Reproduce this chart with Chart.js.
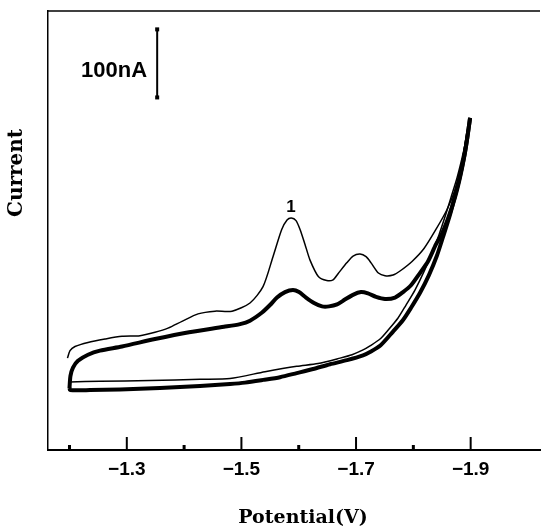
<!DOCTYPE html>
<html>
<head>
<meta charset="utf-8">
<title>Cyclic voltammogram</title>
<script src="https://cdn.jsdelivr.net/npm/chart.js@4.4.1/dist/chart.umd.min.js"></script>
<style>
  html, body { margin: 0; padding: 0; background: #fff; }
  #wrap { width: 541px; height: 531px; }
</style>
</head>
<body>
<div id="wrap"><canvas id="cv" width="541" height="531"></canvas></div>
<script>
// Potential axis ticks (V)
const majorTicks = [-1.3, -1.5, -1.7, -1.9];
const minorTicks = [-1.2, -1.4, -1.6, -1.8];

// First scan, cathodic sweep (thin line, peak "1")
const scan1FwdV = [-1.1965, -1.2009, -1.2096, -1.2323, -1.262, -1.2916, -1.323, -1.3492, -1.3719, -1.3963,
  -1.4243, -1.4539, -1.4836, -1.515, -1.5377, -1.5551, -1.5703, -1.5796, -1.5871, -1.5953,
  -1.6023, -1.611, -1.6197, -1.6342, -1.6489, -1.6599, -1.6686, -1.6838, -1.6948, -1.707,
  -1.7175, -1.7262, -1.739, -1.7506, -1.7646, -1.7768, -1.7977, -1.8186, -1.8394, -1.8586,
  -1.8726, -1.8848, -1.8927, -1.899];
const scan1FwdI = [135, 146, 152, 158, 163, 167, 168, 173, 179, 189,
  200, 204, 204, 216, 240, 284, 324, 338, 341, 337,
  324, 302, 279, 255, 249, 250, 259, 275, 285, 288,
  284, 275, 260, 256, 257, 263, 277, 296, 324, 353,
  382, 422, 463, 488];

// First scan, anodic return (thin line)
const scan1RevV = [-1.899, -1.892, -1.885, -1.8763, -1.8657, -1.8569, -1.8447, -1.8325, -1.8185, -1.8028,
  -1.7872, -1.7733, -1.7558, -1.7419, -1.7244, -1.7122, -1.693, -1.6721, -1.6337, -1.5965,
  -1.5412, -1.4801, -1.4277, -1.3405, -1.2532, -1.2009];
const scan1RevI = [488, 456, 429, 400, 371, 347, 316, 290, 262, 235,
  213, 194, 176, 163, 153, 147, 140, 135, 127, 123,
  115, 105, 104, 102, 101, 100];

// Later scans, cathodic sweep (thick band)
const scanNFwdV = [-1.2, -1.2017, -1.2061, -1.2148, -1.2323, -1.2532, -1.2916, -1.3492, -1.4086, -1.4696,
  -1.4976, -1.515, -1.536, -1.5499, -1.5621, -1.5761, -1.59, -1.6005, -1.6127, -1.6267,
  -1.6407, -1.6529, -1.6669, -1.6806, -1.6946, -1.7086, -1.7208, -1.7349, -1.7506, -1.768,
  -1.782, -1.7959, -1.8115, -1.8255, -1.8394, -1.8499, -1.8621, -1.8726, -1.8813, -1.8883,
  -1.8936, -1.899];
const scanNFwdI = [91, 109, 121, 131, 140, 146, 152, 163, 173, 181,
  185, 190, 202, 213, 224, 232, 235, 232, 224, 216,
  211, 211, 214, 221, 228, 232, 230, 225, 222, 224,
  232, 242, 260, 277, 302, 318, 344, 371, 400, 429,
  456, 488];

// Later scans, anodic return (thick band)
const scanNRevV = [-1.899, -1.8937, -1.8894, -1.8815, -1.8728, -1.8641, -1.8518, -1.8409, -1.8272, -1.8117,
  -1.796, -1.782, -1.7646, -1.7419, -1.7244, -1.7122, -1.6843, -1.6546, -1.625, -1.5965,
  -1.5674, -1.5382, -1.5063, -1.4801, -1.4277, -1.3579, -1.2881, -1.2358, -1.2009, -1.2];
const scanNRevI = [488, 456, 434, 403, 374, 346, 313, 285, 257, 231,
  209, 191, 174, 153, 144, 139, 132, 126, 119, 113,
  107, 103, 99, 97, 94, 91, 89, 88, 88, 91];

const xMin = -2.021, xMax = -1.1625;
const yMin = 0, yMax = 645;

function toPoints(vs, is) {
    return vs.map((v, k) => ({ x: v, y: is[k] }));
}

const serif = "'DejaVu Serif', 'Liberation Serif', serif";
const sans = "'Liberation Sans', Arial, sans-serif";

// Frame, inward ticks, scale bar and titles
const decorations = {
    id: 'decorations',
    afterDraw(chart) {
        const { ctx, chartArea: a, scales: { x, y } } = chart;
        ctx.save();
        ctx.strokeStyle = '#000';
        ctx.fillStyle = '#000';

        // top frame line
        ctx.lineWidth = 1.5;
        ctx.beginPath();
        ctx.moveTo(a.left, a.top);
        ctx.lineTo(a.right, a.top);
        ctx.stroke();

        // ticks pointing up into the plot
        ctx.lineWidth = 2;
        majorTicks.forEach(v => {
            const px = x.getPixelForValue(v);
            ctx.beginPath();
            ctx.moveTo(px, a.bottom);
            ctx.lineTo(px, a.bottom - 13);
            ctx.stroke();
        });
        minorTicks.forEach(v => {
            const px = x.getPixelForValue(v);
            ctx.fillRect(px - 1.5, a.bottom - 5, 3, 5);
        });

        // 100 nA scale bar
        const bx = x.getPixelForValue(-1.353);
        const b0 = y.getPixelForValue(518);
        const b1 = y.getPixelForValue(618);
        ctx.lineWidth = 2;
        ctx.beginPath();
        ctx.moveTo(bx, b0);
        ctx.lineTo(bx, b1);
        ctx.stroke();
        ctx.fillRect(bx - 2, b0 - 2, 4, 4);
        ctx.fillRect(bx - 2, b1 - 2, 4, 4);
        ctx.font = 'bold 22px ' + sans;
        ctx.textAlign = 'right';
        ctx.textBaseline = 'middle';
        ctx.fillText('100nA', x.getPixelForValue(-1.3353), y.getPixelForValue(557));

        // peak label
        ctx.font = 'bold 17px ' + sans;
        ctx.textAlign = 'center';
        ctx.fillText('1', x.getPixelForValue(-1.5865), y.getPixelForValue(356));

        // axis titles
        ctx.font = 'bold 19px ' + serif;
        ctx.fillText('Potential(V)', a.left + 255, a.bottom + 68);
        ctx.font = 'bold 20px ' + serif;
        ctx.translate(a.left - 31, a.top + 162);
        ctx.rotate(-Math.PI / 2);
        ctx.fillText('Current', 0, 0);
        ctx.restore();
    }
};

const lineStyle = (w) => ({
    borderColor: '#000',
    borderWidth: w,
    pointRadius: 0,
    fill: false,
    tension: 0.25,
    showLine: true
});

new Chart(document.getElementById('cv'), {
    type: 'scatter',
    data: {
        datasets: [
            { label: 'scan 1 cathodic', data: toPoints(scan1FwdV, scan1FwdI), ...lineStyle(1.5) },
            { label: 'scan 1 anodic', data: toPoints(scan1RevV, scan1RevI), ...lineStyle(1.5) },
            { label: 'scans 2+ cathodic', data: toPoints(scanNFwdV, scanNFwdI), ...lineStyle(4) },
            { label: 'scans 2+ anodic', data: toPoints(scanNRevV, scanNRevI), ...lineStyle(4) }
        ]
    },
    options: {
        responsive: false,
        animation: false,
        layout: { padding: { top: 11, right: 1, left: 0, bottom: 0 } },
        plugins: { legend: { display: false }, tooltip: { enabled: false } },
        scales: {
            x: {
                type: 'linear',
                reverse: true,
                min: xMin,
                max: xMax,
                afterBuildTicks: s => { s.ticks = majorTicks.map(v => ({ value: v })); },
                afterFit: s => { s.height = 81; },
                grid: { display: true, drawOnChartArea: false, drawTicks: false },
                border: { display: true, color: '#000', width: 2 },
                ticks: {
                    padding: 8,
                    color: '#000',
                    font: { family: sans, size: 19, weight: 'bold' },
                    maxRotation: 0,
                    callback: v => '\u2212' + Math.abs(v).toFixed(1)
                }
            },
            y: {
                type: 'linear',
                min: yMin,
                max: yMax,
                afterFit: s => { s.width = 48; },
                grid: { display: true, drawOnChartArea: false, drawTicks: false },
                border: { display: true, color: '#000', width: 1.5 },
                ticks: { display: false }
            }
        }
    },
    plugins: [decorations]
});
</script>
</body>
</html>
